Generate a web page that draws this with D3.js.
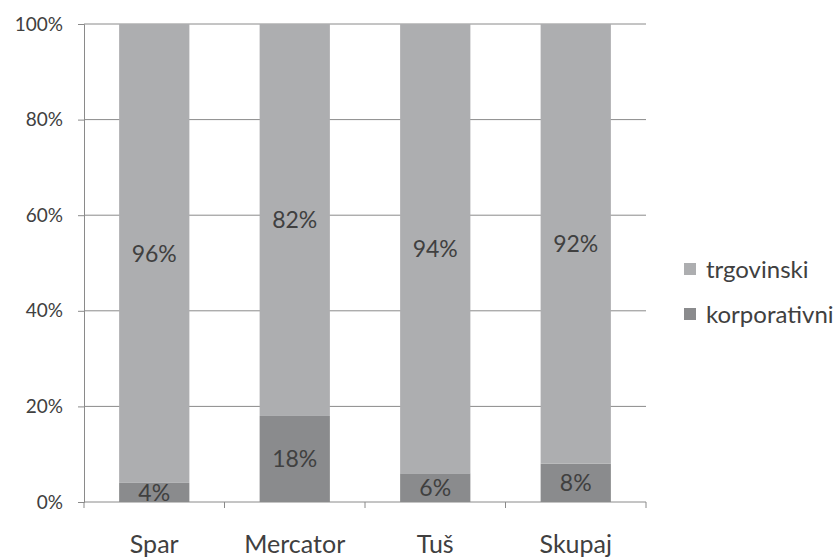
<!DOCTYPE html>
<html><head><meta charset="utf-8">
<script src="https://cdn.jsdelivr.net/npm/d3@7"></script>
<style>body{margin:0;background:#fff;} text{font-family:Lato,"Open Sans",sans-serif;fill:#404040;}</style>
</head><body>
<svg id="c" width="839" height="557"></svg>
<script>
const categories = ["Spar", "Mercator", "Tuš", "Skupaj"];
const korporativni = [4, 18, 6, 8];
const trgovinski = [96, 82, 94, 92];
const seriesNames = ["trgovinski", "korporativni"];
const yTicks = [0, 20, 40, 60, 80, 100];
const colors = {trgovinski: "#adaeb0", korporativni: "#8a8b8d"};

const svg = d3.select("#c");
const x = d3.scaleBand().domain(categories).range([84, 646]).paddingInner(0.5).paddingOuter(0.25);
const y = d3.scaleLinear().domain([0, 100]).range([502, 24]);

// gridlines
svg.append("g").selectAll("line").data(yTicks.filter(d => d > 0)).join("line")
  .attr("x1", 84).attr("x2", 646).attr("y1", d => y(d)).attr("y2", d => y(d))
  .attr("stroke", "#8a8a8a").attr("stroke-width", 1);

const data = categories.map((c, i) => ({c, k: korporativni[i], t: trgovinski[i]}));
const g = svg.append("g");
g.selectAll("rect.k").data(data).join("rect")
  .attr("x", d => x(d.c)).attr("width", x.bandwidth())
  .attr("y", d => y(d.k)).attr("height", d => y(0) - y(d.k)).attr("fill", colors.korporativni);
g.selectAll("rect.t").data(data).join("rect")
  .attr("x", d => x(d.c)).attr("width", x.bandwidth())
  .attr("y", d => y(d.k + d.t)).attr("height", d => y(d.k) - y(d.k + d.t)).attr("fill", colors.trgovinski);

// data labels
g.selectAll("text.k").data(data).join("text")
  .attr("x", d => x(d.c) + x.bandwidth() / 2).attr("y", d => y(d.k / 2))
  .attr("dy", "0.36em").attr("text-anchor", "middle").attr("font-size", 23)
  .text(d => d.k + "%");
g.selectAll("text.t").data(data).join("text")
  .attr("x", d => x(d.c) + x.bandwidth() / 2).attr("y", d => y(d.k + d.t / 2))
  .attr("dy", "0.36em").attr("text-anchor", "middle").attr("font-size", 23)
  .text(d => d.t + "%");

// y axis
const ya = svg.append("g").attr("transform", "translate(84,0)")
  .call(d3.axisLeft(y).tickValues(yTicks).tickFormat(d => d + "%").tickSize(6).tickPadding(15));
ya.select(".domain").attr("stroke", "#8a8a8a");
ya.selectAll(".tick line").attr("stroke", "#8a8a8a");
ya.selectAll("text").attr("font-size", 19).attr("fill", "#404040");

// x axis
const xa = svg.append("g").attr("transform", "translate(0,502)");
xa.append("line").attr("x1", 84).attr("x2", 646).attr("stroke", "#8a8a8a");
const bounds = d3.range(categories.length + 1).map(i => 84 + i * (562 / categories.length));
xa.selectAll("line.tk").data(bounds).join("line")
  .attr("x1", d => d).attr("x2", d => d).attr("y1", 0).attr("y2", 6).attr("stroke", "#8a8a8a");
xa.selectAll("text").data(categories).join("text")
  .attr("x", d => x(d) + x.bandwidth() / 2).attr("y", 51)
  .attr("text-anchor", "middle").attr("font-size", 25).text(d => d);

// legend
const lg = svg.append("g").attr("transform", "translate(684,0)");
seriesNames.forEach((s, i) => {
  const yy = 269 + i * 45;
  lg.append("rect").attr("x", 0).attr("y", yy - 6).attr("width", 12).attr("height", 12).attr("fill", colors[s]);
  lg.append("text").attr("x", 22).attr("y", yy).attr("dy", "0.36em").attr("font-size", 24).text(s);
});
</script>
</body></html>
